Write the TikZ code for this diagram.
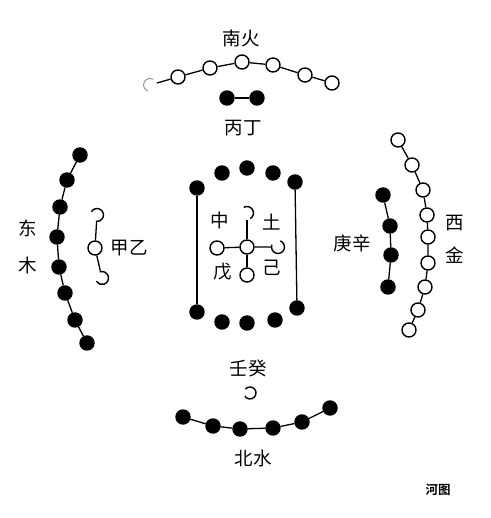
\documentclass[tikz,border=0pt]{standalone}
\usepackage{fontspec}
\newfontfamily\cjk{Noto Sans CJK SC}
\newfontfamily\cjkb{Noto Sans CJK SC Bold}
\begin{document}
\begin{tikzpicture}[x=1pt,y=1pt,
  wd/.style={circle,draw=black,fill=white,line width=1.4pt,minimum size=14pt,inner sep=0pt},
  bd/.style={circle,draw=black,fill=black,line width=1.4pt,minimum size=14pt,inner sep=0pt},
  gd/.style={circle,draw=none,minimum size=14pt,inner sep=0pt},
  lbl/.style={font=\cjk\fontsize{18.5}{18.5}\selectfont,inner sep=0pt},
  cn/.style={line width=1.3pt}]
\useasboundingbox[fill=white] (0,0) rectangle (490,518);
% South
\node[lbl] (tS) at (241,480) {南火};
\node[gd] (s1) at (150,433) {};
\node[wd] (s2) at (178,441) {};
\node[wd] (s3) at (210,450) {};
\node[wd] (s4) at (242,456) {};
\node[wd] (s5) at (273,453) {};
\node[wd] (s6) at (305,443) {};
\node[wd] (s7) at (332,435) {};
\draw[black!45,line width=0.9pt] ([shift={(60:6.5)}]s1.center) arc[start angle=60,end angle=250,radius=6.5];
\draw[cn] (s1)--(s2)--(s3)--(s4)--(s5)--(s6)--(s7);
\node[bd] (b1) at (227,420) {};
\node[bd] (b2) at (257,420) {};
\draw[cn] (b1)--(b2);
\node[lbl] (tB) at (243,390) {丙丁};
% East
\node[bd] (e1) at (80,363) {};
\node[bd] (e2) at (67,338) {};
\node[bd] (e3) at (60,311) {};
\node[bd] (e4) at (57,281) {};
\node[bd] (e5) at (59,251) {};
\node[bd] (e6) at (65,225) {};
\node[bd] (e7) at (75,198) {};
\node[bd] (e8) at (87,175) {};
\draw[cn] (e1)--(e2)--(e3)--(e4)--(e5)--(e6)--(e7)--(e8);
\node[lbl] (tE1) at (28,290) {东};
\node[lbl] (tE2) at (28,253) {木};
\node[gd] (j1) at (97,303) {};
\node[wd] (j2) at (95,270) {};
\node[gd] (j3) at (102,240) {};
\draw[line width=1.4pt] ([shift={(150:6.5)}]j1.center) arc[start angle=150,end angle=-100,radius=6.5];
\draw[line width=1.4pt] ([shift={(110:6.5)}]j3.center) arc[start angle=110,end angle=-150,radius=6.5];
\draw[cn] (j1)--(j2)--(j3);
\node[lbl] (tJ) at (129,270) {甲乙};
% Centre
\node[bd] (c1) at (197,330) {};
\node[bd] (c2) at (222,345) {};
\node[bd] (c3) at (247,350) {};
\node[bd] (c4) at (273,345) {};
\node[bd] (c5) at (295,336) {};
\node[bd] (d1) at (197,206) {};
\node[bd] (d2) at (222,196) {};
\node[bd] (d3) at (247,195) {};
\node[bd] (d4) at (275,198) {};
\node[bd] (d5) at (297,210) {};
\draw[cn] (c1)--(d1);
\draw[cn] (c5)--(d5);
\node[wd] (m0) at (247,271) {};
\node[wd] (ml) at (217,270) {};
\node[gd] (mr) at (278,271) {};
\node[gd] (mt) at (247,305) {};
\node[wd] (mb) at (247,243) {};
\draw[line width=1.4pt] ([shift={(120:6.5)}]mt.center) arc[start angle=120,end angle=-60,radius=6.5];
\draw[line width=1.4pt] ([shift={(70:6.5)}]mr.center) arc[start angle=70,end angle=-200,radius=6.5];
\draw[cn] (ml)--(m0)--(mr);
\draw[cn] (mt)--(m0)--(mb);
\node[lbl] (tC1) at (220,298) {中};
\node[lbl] (tC2) at (272,296) {土};
\node[lbl] (tC3) at (223,246) {戊};
\node[lbl] (tC4) at (272,250) {己};
% West
\node[wd] (w1) at (398,378) {};
\node[wd] (w2) at (412,353) {};
\node[wd] (w3) at (423,328) {};
\node[wd] (w4) at (427,303) {};
\node[wd] (w5) at (428,281) {};
\node[wd] (w6) at (428,255) {};
\node[wd] (w7) at (425,231) {};
\node[wd] (w8) at (418,208) {};
\node[wd] (w9) at (409,188) {};
\draw[cn] (w1)--(w2)--(w3)--(w4)--(w5)--(w6)--(w7)--(w8)--(w9);
\node[lbl] (tW1) at (455,295) {西};
\node[lbl] (tW2) at (455,263) {金};
\node[bd] (g1) at (383,323) {};
\node[bd] (g2) at (390,292) {};
\node[bd] (g3) at (391,263) {};
\node[bd] (g4) at (388,231) {};
\draw[cn] (g1)--(g2)--(g3)--(g4);
\node[lbl] (tG) at (352,275) {庚辛};
% North
\node[lbl] (tN) at (248,150) {壬癸};
\node[gd] (n0) at (250,125) {};
\draw[line width=1.4pt] ([shift={(140:6)}]n0.center) arc[start angle=140,end angle=-150,radius=6];
\node[bd] (n1) at (183,101) {};
\node[bd] (n2) at (213,92) {};
\node[bd] (n3) at (240,89) {};
\node[bd] (n4) at (273,90) {};
\node[bd] (n5) at (302,96) {};
\node[bd] (n6) at (330,110) {};
\draw[cn] (n1)--(n2)--(n3)--(n4)--(n5)--(n6);
\node[lbl] (tN2) at (253,60) {北水};
\node[font=\cjkb\fontsize{12.5}{12.5}\selectfont,inner sep=0pt] (tH) at (438,28) {河图};
\end{tikzpicture}
\end{document}
